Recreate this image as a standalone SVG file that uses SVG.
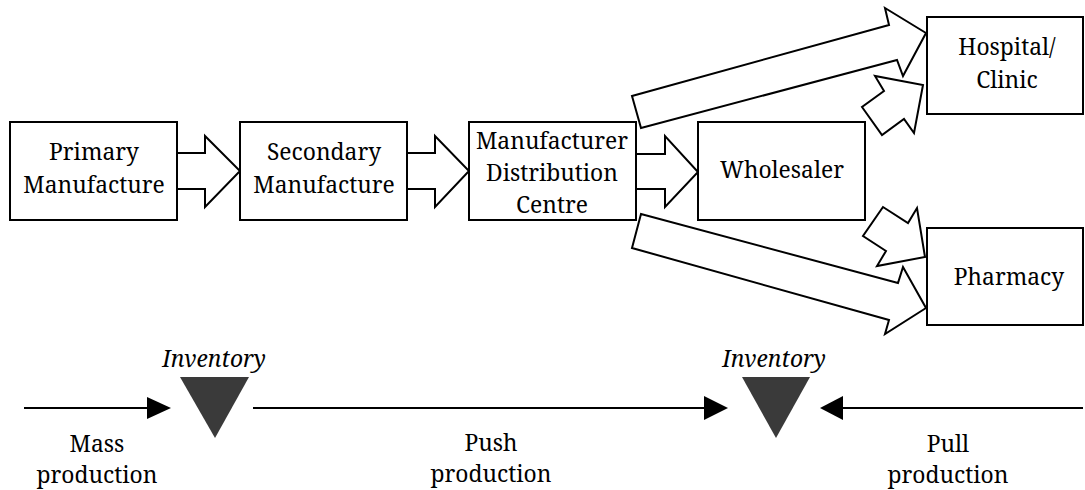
<svg xmlns="http://www.w3.org/2000/svg" width="1085" height="490" viewBox="0 0 1085 490">
<style>
.box{fill:#fff;stroke:#000;stroke-width:2}
.arr{fill:#fff;stroke:#000;stroke-width:2;stroke-linejoin:miter}
.t{font-family:'Noto Serif','DejaVu Serif','Liberation Serif',serif;font-size:22.8px;fill:#000;text-anchor:middle}
.it{font-style:italic}
.line{stroke:#000;stroke-width:2;fill:none}
.head{fill:#000}
.inv{fill:#3a3a3a}
</style>
<rect width="1085" height="490" fill="#fff"/>
<g id="connectors">
<polygon class="arr" points="177,153 205,153 205,136 240,171 205,207 205,189 177,189"/>
<polygon class="arr" points="407,153 435,153 435,136 469,171 435,207 435,189 407,189"/>
<polygon class="arr" points="636,154 665,154 665,136 698,172 665,207 665,189 636,189"/>
<polygon class="arr" points="632,96 641,128 897,60 903,76 926,33 885,8 889,25"/>
<polygon class="arr" points="641,214 632,248 889,320 885,334 926,308 903,267 898,283"/>
<polygon class="arr" points="862,107 882,135 904,119 914,133 923,85 875,76 884,91"/>
<polygon class="arr" points="883,207 863,236 886,251 877,266 925,257 917,208 908,223"/>
</g>
<g id="primary">
<rect class="box" x="10" y="122" width="167" height="98"/>
<text class="t" x="94" y="160">Primary</text>
<text class="t" x="94" y="193">Manufacture</text>
</g>
<g id="secondary">
<rect class="box" x="240" y="122" width="167" height="98"/>
<text class="t" x="324" y="160">Secondary</text>
<text class="t" x="324" y="193">Manufacture</text>
</g>
<g id="mdc">
<rect class="box" x="469" y="122" width="167" height="98"/>
<text class="t" x="552" y="149">Manufacturer</text>
<text class="t" x="552" y="181">Distribution</text>
<text class="t" x="552" y="213">Centre</text>
</g>
<g id="wholesaler">
<rect class="box" x="698" y="122" width="167" height="98"/>
<text class="t" x="782" y="178">Wholesaler</text>
</g>
<g id="hospital">
<rect class="box" x="927" y="17" width="156" height="97"/>
<text class="t" x="1007" y="55">Hospital/</text>
<text class="t" x="1007" y="88">Clinic</text>
</g>
<g id="pharmacy">
<rect class="box" x="927" y="228" width="156" height="97"/>
<text class="t" x="1009" y="285">Pharmacy</text>
</g>
<g id="inventory1">
<polygon class="inv" points="180,377 249,377 215,438"/>
<text class="t it" x="214" y="367">Inventory</text>
</g>
<g id="inventory2">
<polygon class="inv" points="742,377 810,377 776,438"/>
<text class="t it" x="774" y="367">Inventory</text>
</g>
<g id="flow">
<line class="line" x1="24" y1="408" x2="150" y2="408"/>
<polygon class="head" points="147,397 171,408 147,419"/>
<line class="line" x1="253" y1="408" x2="707" y2="408"/>
<polygon class="head" points="704,396 728,408 704,420"/>
<line class="line" x1="840" y1="408" x2="1083" y2="408"/>
<polygon class="head" points="843,396 820,408 843,420"/>
</g>
<g id="labels">
<text class="t" x="97" y="452">Mass</text>
<text class="t" x="97" y="483">production</text>
<text class="t" x="491" y="451">Push</text>
<text class="t" x="491" y="482">production</text>
<text class="t" x="948" y="452">Pull</text>
<text class="t" x="948" y="483">production</text>
</g>
</svg>
